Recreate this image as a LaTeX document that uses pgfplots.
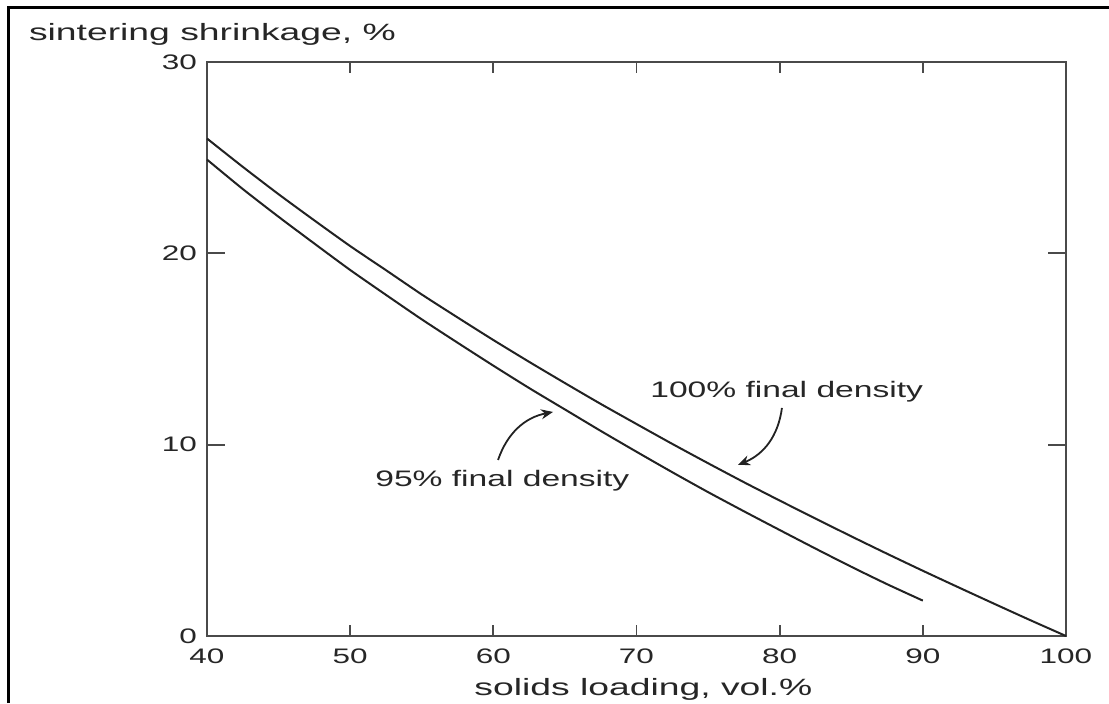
\documentclass[border=0pt]{standalone}
\usepackage{fontspec}
\setmainfont{Liberation Sans}[FakeStretch=1.5]
\newfontfamily\labelfont{Liberation Sans}[FakeStretch=1.58]
\usepackage{pgfplots}
\pgfplotsset{compat=1.18}
\usetikzlibrary{arrows.meta}
\definecolor{txt}{HTML}{262626}
\definecolor{ax}{HTML}{4a4a4a}
\definecolor{crv}{HTML}{222222}
\begin{document}
\begin{tikzpicture}
\path[use as bounding box] (0,0) rectangle (554.5pt,351.5pt);
\draw[line width=1.2pt, black] (4.2pt,0) -- (4.2pt,347.8pt) -- (554.5pt,347.8pt);
\begin{axis}[
  at={(103.5pt,33.5pt)}, anchor=south west,
  scale only axis, width=429.5pt, height=287pt,
  xmin=40, xmax=100, ymin=0, ymax=30,
  xtick={40,50,60,70,80,90,100}, ytick={0,10,20,30},
  tick align=inside,
  axis line style={ax, line width=1pt},
  tick style={ax, line width=0.9pt},
  xtick style={/pgfplots/major tick length=5.5pt},
  ytick style={/pgfplots/major tick length=9pt},
  ticklabel style={font=\fontsize{10.5}{12}\selectfont, text=txt},
  xticklabel style={yshift=-3pt},
  yticklabel style={xshift=-1.5pt},
  /pgf/number format/assume math mode=true,
  xlabel={solids loading, vol.\%},
  ylabel={sintering shrinkage, \%},
  xlabel style={font=\labelfont\fontsize{11.8}{14}\selectfont, text=txt, anchor=base, at={(axis description cs:0.508,-0.1045)}},
  ylabel style={font=\labelfont\fontsize{11.8}{14}\selectfont, text=txt, rotate=-90, anchor=base west, at={(axis description cs:-0.2154,1.0383)}},
  clip=false,
]
\addplot[crv, line width=1pt, line join=round, smooth, tension=0.4] coordinates {
  (40,26.00) (42.5,24.52) (45,23.09) (47.5,21.72) (50,20.38) (52.5,19.12) (55,17.85)
  (57.5,16.65) (60,15.47) (62.5,14.33) (65,13.22) (67.5,12.13) (70,11.08)
  (72.5,10.04) (75,9.03) (77.5,8.04) (80,7.08) (82.5,6.14) (85,5.21) (87.5,4.30)
  (90,3.41) (92.5,2.54) (95,1.68) (97.5,0.83) (100,0)};
\addplot[crv, line width=1pt, line join=round, smooth, tension=0.4] coordinates {
  (40,24.90) (42.5,23.36) (45,21.91) (47.5,20.51) (50,19.13) (52.5,17.83) (55,16.55)
  (57.5,15.33) (60,14.13) (62.5,12.96) (65,11.84) (67.5,10.72) (70,9.63)
  (72.5,8.56) (75,7.52) (77.5,6.52) (80,5.54) (82.5,4.57) (85,3.62) (87.5,2.71)
  (90,1.85)};
\node[anchor=base west, inner sep=0pt, text=txt, font=\fontsize{11.2}{13}\selectfont] at (axis cs:70.94,12.49) {100\% final density};
\node[anchor=base west, inner sep=0pt, text=txt, font=\fontsize{11.2}{13}\selectfont] at (axis cs:51.73,7.79) {95\% final density};
\draw[crv, line width=0.9pt, -{Stealth[length=6pt,width=5pt]}] (axis cs:80.16,11.92) to[bend left=30] (axis cs:77.09,8.94);
\draw[crv, line width=0.9pt, -{Stealth[length=6pt,width=5pt]}] (axis cs:60.33,9.20) to[bend left=30] (axis cs:64.17,11.71);
\end{axis}
\end{tikzpicture}
\end{document}
